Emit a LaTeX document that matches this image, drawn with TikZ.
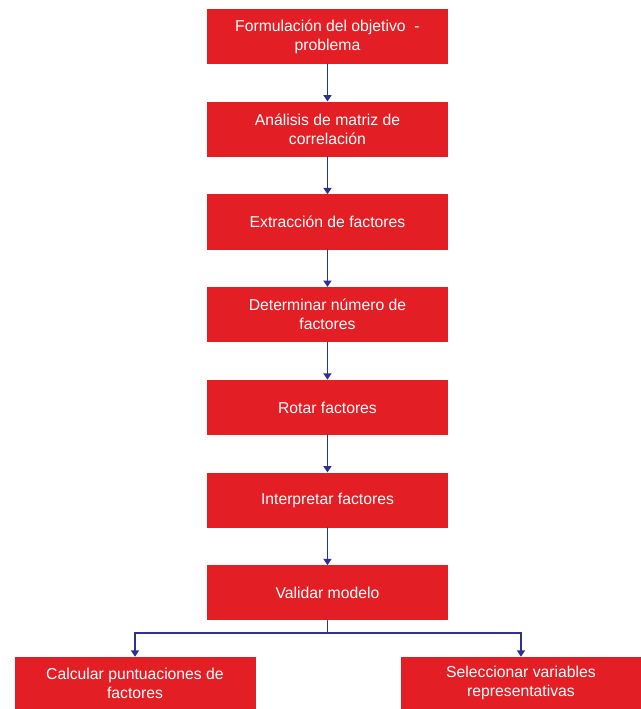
\documentclass[tikz,border=0pt]{standalone}
\usepackage{fontspec}
\setmainfont{Liberation Sans}
\usetikzlibrary{arrows.meta, positioning}
\definecolor{boxcolor}{RGB}{227, 30, 36}
\definecolor{flowcolor}{RGB}{46, 49, 146}

\begin{document}
\begin{tikzpicture}[>={Triangle[width=6pt, length=4.8pt]}, line cap=round,
  stepbox/.style={fill=boxcolor, text=white, align=center,
    minimum width=180.75pt, minimum height=41.25pt, inner sep=0pt,
    font=\fontsize{11.8pt}{14.2pt}\selectfont},
  leafbox/.style={stepbox, minimum height=39pt},
  flow/.style={->, flowcolor, line width=1.25pt},
  node distance=27.9pt]

  % Canvas
  \useasboundingbox (0,0) rectangle (480.75pt, -531.75pt);

  % Main chain of steps
  \node[stepbox] (goal) at (245.6pt, -27.4pt) {Formulación del objetivo \ -\\problema};
  \node[stepbox, below=of goal] (corr) {Análisis de matriz de\\correlación};
  \node[stepbox, below=of corr] (extract) {Extracción de factores};
  \node[stepbox, below=of extract] (number) {Determinar número de\\factores};
  \node[stepbox, below=of number] (rotate) {Rotar factores};
  \node[stepbox, below=of rotate] (interp) {Interpretar factores};
  \node[stepbox, below=of interp] (valid) {Validar modelo};

  % Two final branches
  \node[leafbox] (scores) at (101.25pt, -512.25pt) {Calcular puntuaciones de\\factores};
  \node[leafbox] (select) at (390.75pt, -512.25pt) {Seleccionar variables\\representativas};

  % Arrows down the chain
  \draw[flow] (goal) -- (corr);
  \draw[flow] (corr) -- (extract);
  \draw[flow] (extract) -- (number);
  \draw[flow] (number) -- (rotate);
  \draw[flow] (rotate) -- (interp);
  \draw[flow] (interp) -- (valid);

  % Split into the branches
  \coordinate (split) at ([yshift=-9pt]valid.south);
  \draw[flowcolor, line width=1.25pt] (valid) -- (split);
  \draw[flow] (split) -| (scores);
  \draw[flow] (split) -| (select);

\end{tikzpicture}
\end{document}
